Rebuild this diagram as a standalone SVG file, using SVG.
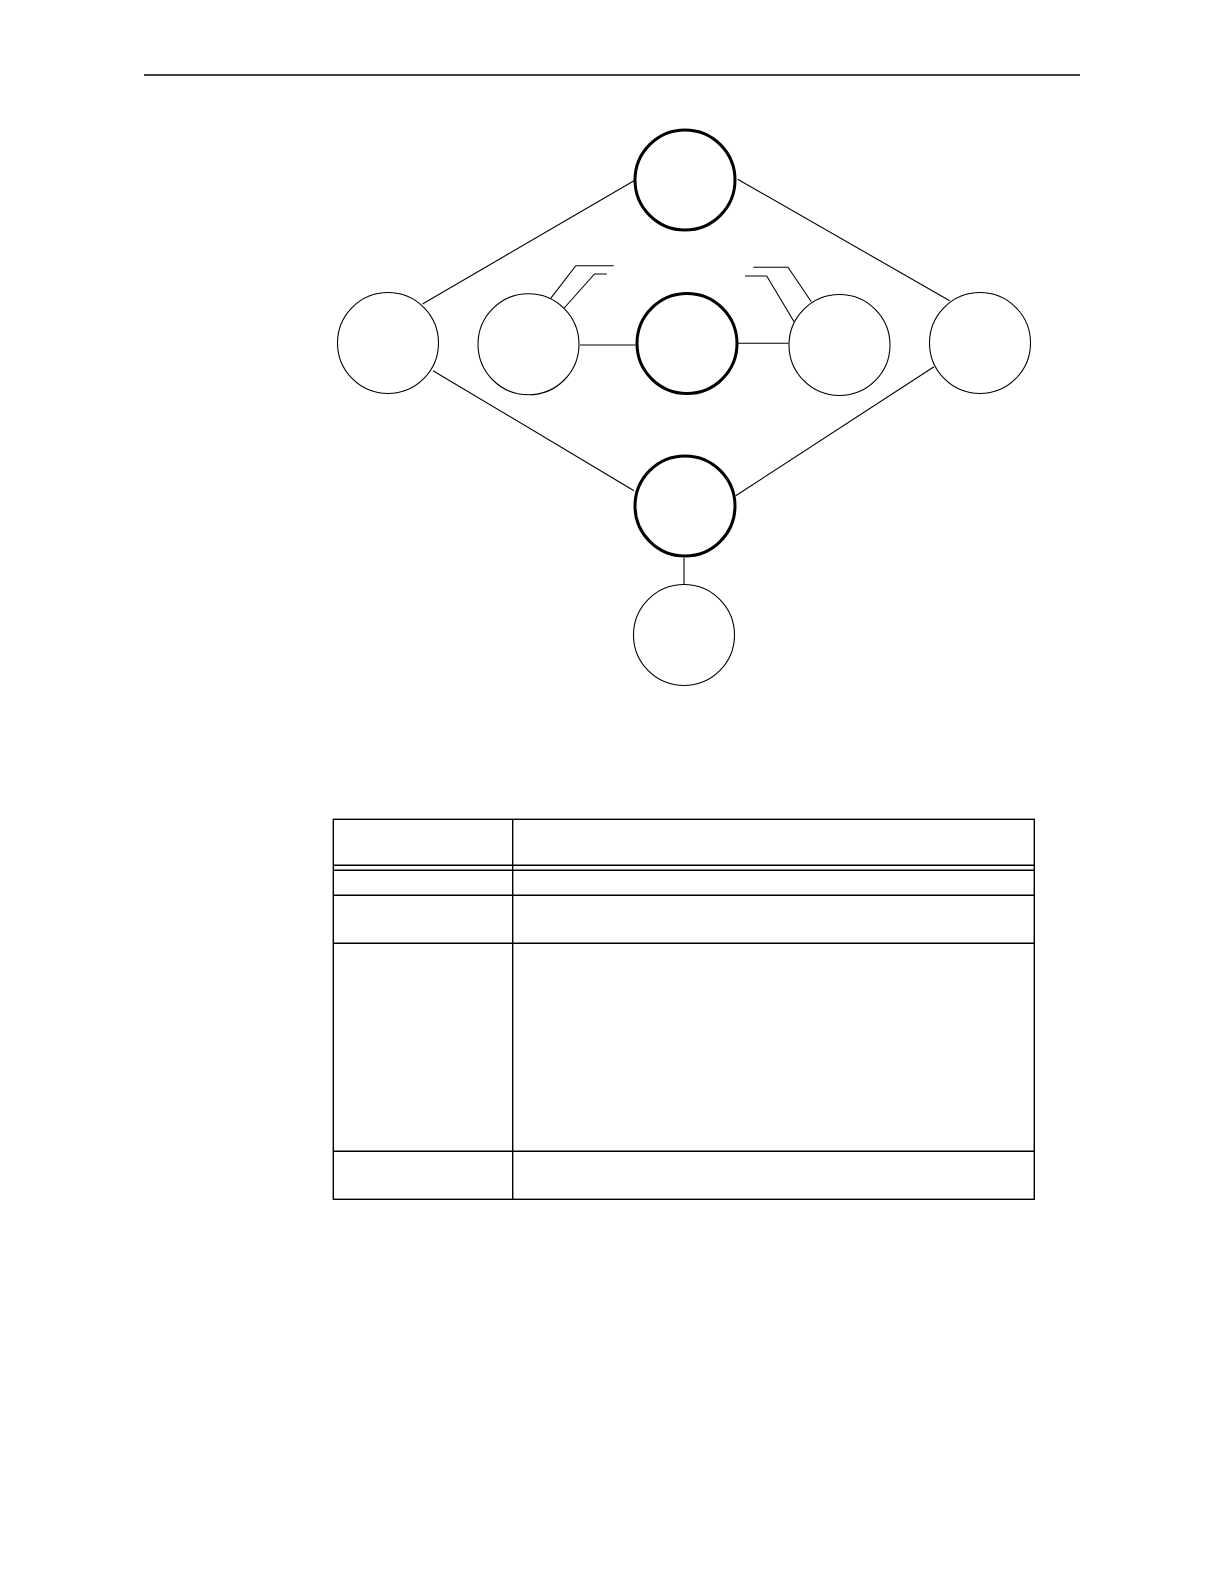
<svg xmlns="http://www.w3.org/2000/svg" width="1224" height="1584" viewBox="0 0 1224 1584">
<style>
.thin{fill:#fff;stroke:#000;stroke-width:1.1}
.thick{fill:#fff;stroke:#000;stroke-width:3}
.ln{fill:none;stroke:#000;stroke-width:1.1}
.tb{fill:none;stroke:#000;stroke-width:1.4}
</style>
<rect width="1224" height="1584" fill="#fff"/>
<line x1="144" y1="75" x2="1080" y2="75" stroke="#000" stroke-width="1.4"/>
<g id="connectors">
<line class="ln" x1="634" y1="180.7" x2="422.5" y2="304"/>
<line class="ln" x1="737.7" y1="179.3" x2="949.7" y2="300.7"/>
<line class="ln" x1="433" y1="370.7" x2="634" y2="490.7"/>
<line class="ln" x1="934" y1="366.7" x2="735.7" y2="495.7"/>
<line class="ln" x1="580" y1="345" x2="635.7" y2="345"/>
<line class="ln" x1="738" y1="343.3" x2="788.5" y2="343.3"/>
<line class="ln" x1="684" y1="558" x2="684" y2="584"/>
<polyline class="ln" points="550.5,298.7 575.8,265.7 613.8,265.7"/>
<polyline class="ln" points="564.2,308 594.5,274 606.8,274"/>
<polyline class="ln" points="811.3,301.7 788,267.3 753.3,267.3"/>
<polyline class="ln" points="794.7,322.7 766.7,276 745,276"/>
</g>
<g id="node-top"><circle class="thick" cx="685" cy="180" r="50"/></g>
<g id="node-center"><circle class="thick" cx="687" cy="343.5" r="50"/></g>
<g id="node-bottom"><circle class="thick" cx="685" cy="506" r="50"/></g>
<g id="node-left"><circle class="thin" cx="388" cy="343" r="50.5"/></g>
<g id="node-left2"><circle class="thin" cx="528.5" cy="344.3" r="50.5"/></g>
<g id="node-right2"><circle class="thin" cx="839.5" cy="345" r="50.5"/></g>
<g id="node-right"><circle class="thin" cx="980" cy="343" r="50.5"/></g>
<g id="node-sub"><circle class="thin" cx="684" cy="635" r="50.5"/></g>
<g id="table">
<rect class="tb" x="333.3" y="819.3" width="701" height="380"/>
<line class="tb" x1="512.7" y1="819.3" x2="512.7" y2="1199.3"/>
<line class="tb" x1="333.3" y1="865.3" x2="1034.3" y2="865.3"/>
<line class="tb" x1="333.3" y1="870.3" x2="1034.3" y2="870.3"/>
<line class="tb" x1="333.3" y1="895.3" x2="1034.3" y2="895.3"/>
<line class="tb" x1="333.3" y1="943.3" x2="1034.3" y2="943.3"/>
<line class="tb" x1="333.3" y1="1151.3" x2="1034.3" y2="1151.3"/>
</g>
</svg>
